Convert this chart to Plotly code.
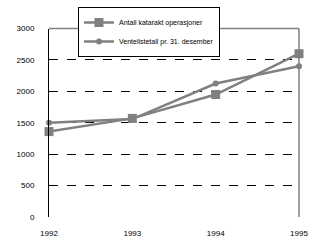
import plotly.graph_objects as go

years = [1992, 1993, 1994, 1995]
year_labels = ["1992", "1993", "1994", "1995"]
operasjoner = [1360, 1570, 1950, 2600]
venteliste = [1500, 1560, 2125, 2400]
y_ticks = [0, 500, 1000, 1500, 2000, 2500, 3000]

grey = "#808080"
fig = go.Figure()
fig.add_trace(go.Scatter(
    x=years, y=operasjoner, name="Antall katarakt operasjoner",
    mode="lines+markers", line=dict(color=grey, width=2.5),
    marker=dict(symbol="square", size=9, color=grey), cliponaxis=False))
fig.add_trace(go.Scatter(
    x=years, y=venteliste, name="Ventelistetall pr. 31. desember",
    mode="lines+markers", line=dict(color=grey, width=2.5),
    marker=dict(symbol="circle", size=6, color=grey), cliponaxis=False))

fig.update_layout(
    width=329, height=252, margin=dict(l=49, r=30, t=3, b=35),
    paper_bgcolor="white", plot_bgcolor="white",
    font=dict(family="Liberation Sans, Arial", size=8, color="black"),
    showlegend=True,
    legend=dict(x=0.116, y=1.0, xanchor="left", yanchor="top",
                bgcolor="white", bordercolor="black", borderwidth=1,
                font=dict(size=7), tracegroupgap=0, entrywidth=178),
    xaxis=dict(range=[1992, 1995], tickvals=years, ticktext=year_labels,
               showgrid=False, zeroline=False, showline=False, ticks="",
               ticklabelstandoff=10),
    yaxis=dict(range=[0, 3000], domain=[0, 192 / 214], tickvals=y_ticks, showgrid=True,
               gridcolor="black", griddash="dash", gridwidth=1,
               zeroline=False, showline=True, linecolor="black", linewidth=1,
               ticks="", ticklabelstandoff=12),
    shapes=[
        dict(type="line", xref="x domain", yref="y domain", x0=0, x1=1, y0=1, y1=1,
             line=dict(color=grey, width=1.5), layer="above"),
        dict(type="line", xref="x domain", yref="y domain", x0=1, x1=1, y0=0, y1=1,
             line=dict(color=grey, width=1.5), layer="above"),
        dict(type="line", xref="x domain", yref="y domain", x0=0.003, x1=1, y0=0, y1=0,
             line=dict(color="white", width=2), layer="below"),
    ],
)
fig.write_html("out.html")
